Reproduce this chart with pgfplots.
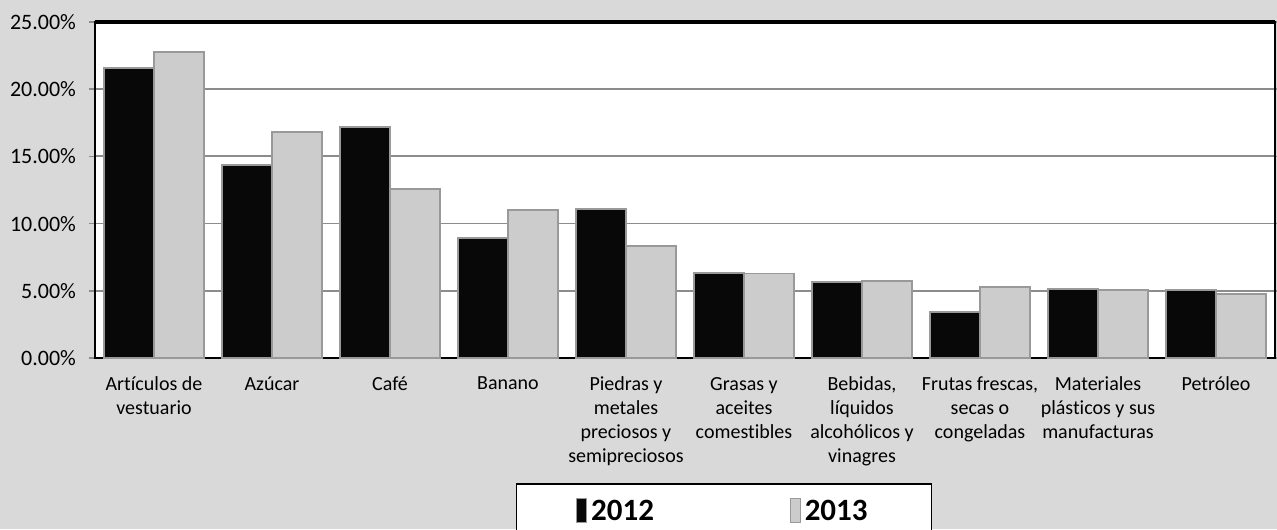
\documentclass[border=0pt]{standalone}
\usepackage{fontspec}
\setmainfont{Carlito}[Ligatures=NoCommon]
\usepackage{pgfplots}
\pgfplotsset{compat=1.18}

\definecolor{bgcol}{HTML}{D9D9D9}
\definecolor{dark}{HTML}{080808}
\definecolor{light}{HTML}{CCCCCC}
\definecolor{edge}{HTML}{999999}
\definecolor{gridc}{HTML}{8C8C8C}

\begin{document}
\begin{tikzpicture}
\path[use as bounding box, fill=bgcol] (0,0) rectangle (638.5pt,264.5pt);
\begin{axis}[
    at={(47.5pt,85.5pt)}, anchor=south west,
    scale only axis,
    width=590pt, height=168pt,
    ybar=0pt, bar width=25pt,
    xmin=-0.5, xmax=9.5,
    ymin=0, ymax=25,
    axis background/.style={fill=white},
    axis line style={black, line width=1pt},
    ymajorgrids,
    grid style={gridc, line width=0.9pt},
    ytick={0,5,10,15,20,25},
    yticklabels={0.00\%,5.00\%,10.00\%,15.00\%,20.00\%,25.00\%},
    yticklabel style={font=\fontsize{11}{13}\selectfont, xshift=-3pt},
    xtick={0,...,9},
    xticklabels={
        {Artículos de\\vestuario},
        {Azúcar},
        {Café},
        {Banano},
        {Piedras y\\metales\\preciosos y\\semipreciosos},
        {Grasas y\\aceites\\comestibles},
        {Bebidas,\\líquidos\\alcohólicos y\\vinagres},
        {Frutas frescas,\\secas o\\congeladas},
        {Materiales\\plásticos y sus\\manufacturas},
        {Petróleo}},
    xticklabel style={font=\fontsize{10}{12}\selectfont, align=center, yshift=-3pt},
    x tick style={draw=none},
    y tick style={gridc, line width=0.8pt},
    tick align=outside,
    major tick length=3pt,
    extra x ticks={-0.5,0.5,...,9.5},
    extra x tick labels={},
    extra x tick style={tick style={draw=gridc, line width=0.8pt}},
    legend columns=2,
    legend style={
        at={(0.533,-0.372)}, anchor=north,
        draw=black, line width=0.8pt, fill=white,
        font=\bfseries\fontsize{15.5}{18}\selectfont,
        inner xsep=30pt, inner ysep=6pt,
        /tikz/every even column/.append style={column sep=66pt},
    },
    legend cell align=left,
    legend image code/.code={\draw[#1, line width=0.4pt] (0pt,-5.5pt) rectangle (5pt,6.5pt);},
    after end axis/.code={\draw[black, line width=1.6pt] (rel axis cs:0,1) -- (rel axis cs:1,1);},
]
\addplot[fill=dark, draw=edge, line width=0.6pt] coordinates {
    (0,21.58) (1,14.36) (2,17.19) (3,8.93) (4,11.09)
    (5,6.32) (6,5.65) (7,3.42) (8,5.13) (9,5.06)
};
\addlegendentry{2012}
\addplot[fill=light, draw=edge, line width=0.6pt] coordinates {
    (0,22.77) (1,16.82) (2,12.57) (3,11.01) (4,8.33)
    (5,6.30) (6,5.73) (7,5.28) (8,5.06) (9,4.76)
};
\addlegendentry{2013}
\end{axis}
\end{tikzpicture}
\end{document}
